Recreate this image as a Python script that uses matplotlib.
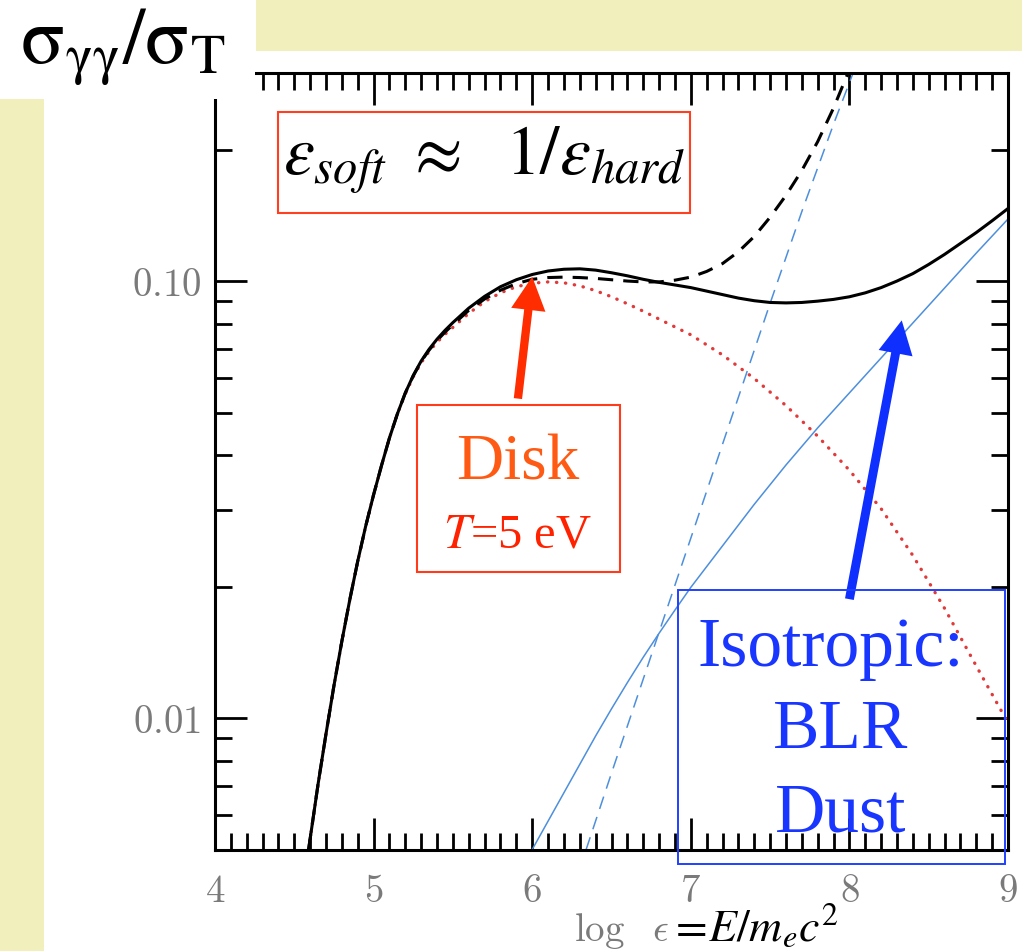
import numpy as np
import matplotlib.pyplot as plt
from matplotlib.patches import Rectangle
from matplotlib.ticker import FixedLocator, MultipleLocator, FuncFormatter, LogLocator, NullFormatter

plt.rcParams['mathtext.fontset'] = 'cm'

W, H = 1022, 951  # output size in pixels (dpi 100)

# log10(sigma_gg / sigma_T), vs log eps
total_x = [4.59, 4.65, 4.7, 4.75, 4.8, 4.85, 4.9, 4.95, 5.0, 5.05, 5.1, 5.15, 5.2, 5.25,
           5.3, 5.35, 5.4, 5.45, 5.5, 5.6, 5.7, 5.8, 5.9, 6.0, 6.1, 6.2, 6.3, 6.4, 6.5,
           6.6, 6.7, 6.8, 6.9, 7.0, 7.1, 7.2, 7.3, 7.4, 7.5, 7.6, 7.7, 7.8, 7.9, 8.0,
           8.1, 8.2, 8.3, 8.4, 8.5, 8.6, 8.7, 8.8, 8.9, 9.0]
total_log = [-2.30, -2.15, -2.035, -1.925, -1.823, -1.728, -1.640, -1.560, -1.488, -1.421,
             -1.358, -1.303, -1.255, -1.215, -1.182, -1.155, -1.132, -1.112, -1.094,
             -1.061, -1.034, -1.012, -0.996, -0.984, -0.976, -0.972, -0.971, -0.974,
             -0.980, -0.987, -0.995, -1.002, -1.008, -1.014, -1.022, -1.030, -1.038,
             -1.044, -1.048, -1.049, -1.048, -1.045, -1.041, -1.035, -1.026, -1.014,
             -0.999, -0.982, -0.961, -0.938, -0.913, -0.888, -0.861, -0.833]

# total without the isotropic (dust) part
nodust_x = [4.59, 4.65, 4.7, 4.75, 4.8, 4.85, 4.9, 4.95, 5.0, 5.05, 5.1, 5.15, 5.2, 5.25,
            5.3, 5.35, 5.4, 5.45, 5.5, 5.6, 5.7, 5.8, 5.9, 6.0, 6.1, 6.2, 6.3, 6.4, 6.5,
            6.6, 6.7, 6.8, 6.9, 7.0, 7.1, 7.2, 7.3, 7.4, 7.5, 7.6, 7.7, 7.8, 7.9, 8.0]
nodust_log = [-2.30, -2.15, -2.035, -1.925, -1.823, -1.728, -1.640, -1.560, -1.488, -1.421,
              -1.358, -1.303, -1.255, -1.216, -1.183, -1.157, -1.135, -1.116, -1.099,
              -1.066, -1.040, -1.020, -1.005, -0.995, -0.991, -0.990, -0.991, -0.993,
              -0.996, -0.999, -1.001, -1.001, -0.997, -0.990, -0.977, -0.959, -0.932,
              -0.897, -0.853, -0.803, -0.746, -0.680, -0.603, -0.515]

# disk, T = 5 eV
disk_x = [4.59, 4.65, 4.7, 4.75, 4.8, 4.85, 4.9, 4.95, 5.0, 5.05, 5.1, 5.15, 5.2, 5.25,
          5.3, 5.35, 5.4, 5.45, 5.5, 5.6, 5.7, 5.8, 5.9, 6.0, 6.1, 6.2, 6.3, 6.4, 6.5,
          6.6, 6.7, 6.8, 7.0, 7.2, 7.4, 7.6, 7.8, 8.0, 8.2, 8.4, 8.6, 8.8, 9.0]
disk_log = [-2.30, -2.15, -2.035, -1.925, -1.823, -1.728, -1.640, -1.560, -1.488, -1.421,
            -1.358, -1.303, -1.257, -1.218, -1.186, -1.160, -1.139, -1.121, -1.105,
            -1.073, -1.046, -1.026, -1.012, -1.004, -1.001, -1.003, -1.010, -1.021,
            -1.035, -1.051, -1.068, -1.086, -1.122, -1.168, -1.222, -1.284, -1.354,
            -1.432, -1.520, -1.627, -1.748, -1.880, -2.010]

# isotropic BLR (solid) and dust (dashed)
blr_x = [6.0, 6.1, 6.2, 6.3, 6.4, 6.5, 6.6, 6.7, 6.8, 6.9, 7.0, 7.2, 7.4, 7.6, 7.8,
         8.0, 8.2, 8.4, 8.6, 8.8, 9.0]
blr_log = [-2.30, -2.235, -2.17, -2.105, -2.04, -1.978, -1.918, -1.86, -1.805, -1.752,
           -1.70, -1.605, -1.51, -1.42, -1.335, -1.255, -1.175, -1.095, -1.015, -0.935,
           -0.857]
dust_x = [6.34, 6.5, 6.7, 6.9, 7.1, 7.3, 7.5, 7.7, 7.9, 8.1]
dust_log = [-2.30, -2.125, -1.91, -1.695, -1.48, -1.265, -1.05, -0.84, -0.64, -0.45]


def fx(x):
    return x / W


def fy(y):
    return 1 - y / H


def add_box(fig, x0, y0, x1, y1, color, lw=1.5):
    fig.add_artist(Rectangle((fx(x0), fy(y1)), (x1 - x0) / W, (y1 - y0) / H,
                             transform=fig.transFigure, fill=False, ec=color,
                             lw=lw, zorder=6))


fig = plt.figure(figsize=(W / 100, H / 100), dpi=100, facecolor='white')

# background strips
yellow = '#f1f0bc'
fig.add_artist(Rectangle((fx(256), fy(51)), 1 - fx(256), 51 / H, transform=fig.transFigure,
                         fc=yellow, ec='none', zorder=-2))
fig.add_artist(Rectangle((0, 0), fx(44), fy(99), transform=fig.transFigure,
                         fc=yellow, ec='none', zorder=-2))

ax = fig.add_axes([fx(215), fy(850), (1008 - 215) / W, (850 - 73) / H])
ax.set_facecolor('white')

ax.plot(disk_x, 10 ** np.array(disk_log), color='#e03a3a', lw=2.4,
        linestyle=(0, (0.1, 2.6)), dash_capstyle='round', zorder=2)
ax.plot(blr_x, 10 ** np.array(blr_log), color='#4d8fdc', lw=1.1, zorder=2)
ax.plot(dust_x, 10 ** np.array(dust_log), color='#4d8fdc', lw=1.1,
        dashes=(8.5, 5.5), zorder=2)
ax.plot(nodust_x, 10 ** np.array(nodust_log), color='black', lw=2.2,
        dashes=(5, 3.3), zorder=3)
ax.plot(total_x, 10 ** np.array(total_log), color='black', lw=2.2, zorder=4)

ax.set_yscale('log')
ax.set_xlim(4, 9)
ax.set_ylim(0.005, 0.3)

ax.xaxis.set_major_locator(MultipleLocator(1))
ax.xaxis.set_minor_locator(MultipleLocator(0.1))
ax.xaxis.set_major_formatter(FuncFormatter(lambda v, _: '$%d$' % round(v)))
ax.yaxis.set_major_locator(FixedLocator([0.01, 0.1]))
ax.yaxis.set_minor_locator(LogLocator(base=10, subs=np.arange(2, 10)))
ax.yaxis.set_major_formatter(FuncFormatter(lambda v, _: '$%.2f$' % v))
ax.yaxis.set_minor_formatter(NullFormatter())

ax.tick_params(which='both', direction='in', top=True, right=True, width=2.0,
               color='black', labelcolor='#7a7a7a', labelsize=28)
ax.tick_params(which='major', length=23)
ax.tick_params(which='minor', length=12)
ax.tick_params(axis='x', pad=16)
ax.tick_params(axis='y', pad=10)
for s in ax.spines.values():
    s.set_linewidth(2.2)

# white patch over the top-left corner, with the y label on it
fig.add_artist(Rectangle((0, fy(99)), fx(255), 99 / H, transform=fig.transFigure,
                         fc='white', ec='none', zorder=5))
fig.text(fx(20), fy(63), r'$\mathrm{\sigma_{\gamma\gamma}/\sigma_T}$', fontsize=58,
         math_fontfamily='stix', ha='left', va='baseline', zorder=7)

# x label: grey part from the original plot, black part pasted on
fig.text(fx(574), fy(941), r'$\log\ \ \epsilon$', fontsize=28, color='#7a7a7a',
         ha='left', va='baseline', zorder=7)
fig.text(fx(669), fy(941), r'$=\!E/m_ec^2$', fontsize=33, math_fontfamily='stix',
         ha='left', va='baseline', zorder=7)

# eps_soft ~ 1/eps_hard
add_box(fig, 278, 112, 690, 213, '#ff4020')
fig.text(fx(484), fy(175), r'$\varepsilon_{soft}\ \approx\ \ 1/\varepsilon_{hard}$',
         fontsize=50, math_fontfamily='stix', ha='center', va='baseline', zorder=7)

# disk label and arrow
add_box(fig, 417, 405, 620, 572, '#ff3b1a')
fig.text(fx(518), fy(480), 'Disk', fontsize=47, family='Liberation Serif',
         color='#ff5a14', ha='center', va='baseline', zorder=7)
fig.text(fx(518), fy(547), r'$T$=5 eV', fontsize=35, family='Liberation Serif',
         math_fontfamily='stix', color='#ff2200', ha='center', va='baseline', zorder=7)
ax.annotate('', xy=(6.0, 10 ** -0.989), xytext=(5.91, 10 ** -1.268),
            arrowprops=dict(arrowstyle='simple,head_length=0.6,head_width=0.62,tail_width=0.15',
                            mutation_scale=40, fc='#ff2d00', ec='none',
                            shrinkA=0, shrinkB=0), annotation_clip=False)

# isotropic label and arrow
add_box(fig, 678, 590, 1005, 864, '#2040ff', lw=1.4)
blue = '#1836ff'
for txt, xc, yb in [('Isotropic:', 831, 666), ('BLR', 841, 748), ('Dust', 841, 832)]:
    fig.text(fx(xc), fy(yb), txt, fontsize=50, family='Liberation Serif', color=blue,
             ha='center', va='baseline', zorder=7)
ax.annotate('', xy=(8.33, 10 ** -1.089), xytext=(8.0, 10 ** -1.727),
            arrowprops=dict(arrowstyle='simple,head_length=0.6,head_width=0.62,tail_width=0.16',
                            mutation_scale=40, fc='#0f2fff', ec='none',
                            shrinkA=0, shrinkB=0), annotation_clip=False)

fig.savefig('out.png', dpi=100, facecolor='white')
